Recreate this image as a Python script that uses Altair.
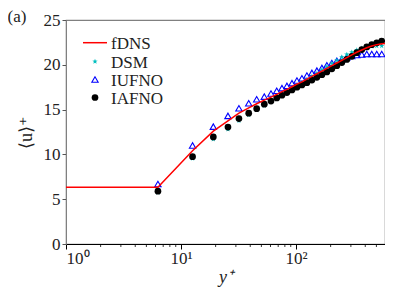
import altair as alt
import pandas as pd

# ---- data ----
SERIES = ["fDNS", "DSM", "IUFNO", "IAFNO"]

FDNS_X = [1.0, 6.3, 12.6, 19.1, 25.6, 31.9, 38.8, 45.5, 53.0, 60.6, 68.0, 75.5, 83.4,
          92.2, 101.9, 112.6, 124.4, 137.5, 151.9, 167.9, 185.5, 205.0, 226.5, 250.3,
          276.6, 305.6, 337.7, 373.2, 412.4, 455.7, 503.5, 556.4, 594.0]
FDNS_U = [6.33, 6.33, 10.4, 12.6, 13.75, 14.6, 15.2, 15.65, 16.05, 16.4, 16.7, 17.0, 17.25,
          17.55, 17.85, 18.1, 18.4, 18.7, 19.0, 19.3, 19.6, 19.9, 20.2, 20.5,
          20.8, 21.1, 21.4, 21.65, 21.9, 22.1, 22.25, 22.35, 22.38]

YPLUS = [6.3, 12.6, 19.1, 25.6, 31.9, 38.8, 45.5, 53.0, 60.6, 68.0, 75.5, 83.4, 92.2,
         101.9, 112.6, 124.4, 137.5, 151.9, 167.9, 185.5, 205.0, 226.5, 250.3, 276.6,
         305.6, 337.7, 373.2, 412.4, 455.7, 503.5, 556.4]
DSM_U = [5.75, 9.55, 11.7, 12.8, 13.75, 14.4, 14.95, 15.45, 15.85, 16.2, 16.55, 16.9, 17.25,
         17.65, 18.0, 18.35, 18.7, 19.05, 19.45, 19.8, 20.15, 20.5, 20.85, 21.15,
         21.4, 21.65, 21.85, 22.0, 22.05, 22.1, 22.1]
IUFNO_U = [6.7, 11.0, 13.1, 14.3, 15.15, 15.7, 16.15, 16.45, 16.8, 17.1, 17.4, 17.65, 17.95,
           18.25, 18.5, 18.8, 19.1, 19.35, 19.65, 19.95, 20.2, 20.45, 20.65, 20.85,
           21.0, 21.1, 21.15, 21.2, 21.2, 21.2, 21.2]
IAFNO_U = [5.9, 9.75, 11.95, 13.05, 14.0, 14.6, 15.1, 15.6, 15.95, 16.3, 16.6, 16.9, 17.2,
           17.5, 17.75, 18.0, 18.3, 18.6, 18.9, 19.2, 19.55, 19.9, 20.25, 20.6,
           20.95, 21.35, 21.7, 22.0, 22.25, 22.45, 22.65]

X_MAJOR = [1, 10, 100]
X_MINOR = [2, 3, 4, 5, 6, 7, 8, 9, 20, 30, 40, 50, 60, 70, 80, 90, 200, 300, 400, 500]
Y_TICKS = [0, 5, 10, 15, 20, 25]
PANEL = ["(a)"]

# ---- styles ----
RED, CYAN, BLUE, BLACK = "#ff0000", "#00bfbf", "#0000ff", "#000000"
STAR = ("M0,-1L0.235,-0.324L0.951,-0.309L0.38,0.124L0.588,0.809L0,0.4"
        "L-0.588,0.809L-0.38,0.124L-0.951,-0.309L-0.235,-0.324Z")
FONT = "Liberation Serif, Times New Roman, serif"
TXT = "#222222"
W, H = 319, 224

line_df = pd.DataFrame({"yplus": FDNS_X, "u": FDNS_U})
dsm_df = pd.DataFrame({"yplus": YPLUS, "u": DSM_U})
iufno_df = pd.DataFrame({"yplus": YPLUS, "u": IUFNO_U})
iafno_df = pd.DataFrame({"yplus": YPLUS, "u": IAFNO_U})
minor_df = pd.DataFrame({"yplus": X_MINOR})
panel_df = pd.DataFrame({"t": PANEL})

xscale = alt.Scale(type="log", domain=[1, 594], nice=False)
yscale = alt.Scale(domain=[0, 25], nice=False)

label_expr = "datum.value == 1 ? '10\\u2070' : (datum.value == 10 ? '10\\u00b9' : '10\\u00b2')"
xaxis = alt.Axis(values=X_MAJOR, labelExpr=label_expr, title="y⁺", grid=False,
                 tickSize=5, labelPadding=1, labelFontSize=17, labelFont=FONT,
                 titleFont=FONT, titleFontSize=18, titleFontStyle="italic",
                 titleFontWeight="normal", titlePadding=2, domainColor=BLACK,
                 tickColor=BLACK, labelColor=TXT, titleColor=TXT)
yaxis = alt.Axis(values=Y_TICKS, title="⟨u⟩⁺", grid=False, tickSize=4,
                 labelPadding=2, labelFontSize=17, labelFont=FONT, titleFont=FONT,
                 titleFontSize=18, titleFontWeight="normal", titlePadding=8,
                 domainColor="#808080", tickColor="#555555", labelColor=TXT,
                 titleColor=TXT)

X = alt.X("yplus:Q", scale=xscale, axis=xaxis)
Y = alt.Y("u:Q", scale=yscale, axis=yaxis)

dsm = alt.Chart(dsm_df).mark_point(shape=STAR, filled=True, color=CYAN,
                                   size=32, opacity=1).encode(x=X, y=Y)
iafno = alt.Chart(iafno_df).mark_point(shape="circle", filled=True, color=BLACK,
                                       size=45, opacity=1).encode(x=X, y=Y)
iufno = alt.Chart(iufno_df).mark_point(shape="triangle-up", filled=False, stroke=BLUE,
                                       strokeWidth=1.1, size=40, opacity=1).encode(x=X, y=Y)
line = alt.Chart(line_df).mark_line(color=RED, strokeWidth=1.5, clip=True).encode(x=X, y=Y)

minor = alt.Chart(minor_df).mark_rule(color=BLACK, strokeWidth=0.8).encode(
    x=X,
    y=alt.value(H),
    y2=alt.value(H + 3),
)

panel = alt.Chart(panel_df).mark_text(font=FONT, fontSize=17, color=TXT,
                                      align="center", baseline="middle").encode(
    x=alt.value(-49), y=alt.value(-3), text="t:N"
)

# ---- legend (drawn inside the plot, top-left) ----
LX, LT, ROWS = 29, 45, [22.7, 41.5, 59.5, 77.5]
leg = []
leg.append(alt.Chart(pd.DataFrame({"t": [SERIES[0]]})).mark_rule(color=RED, strokeWidth=1.5)
           .encode(x=alt.value(LX - 12), x2=alt.value(LX + 12), y=alt.value(ROWS[0])))
leg.append(alt.Chart(pd.DataFrame({"t": [SERIES[1]]})).mark_point(
    shape=STAR, filled=True, color=CYAN, size=32, opacity=1)
    .encode(x=alt.value(LX), y=alt.value(ROWS[1])))
leg.append(alt.Chart(pd.DataFrame({"t": [SERIES[2]]})).mark_point(
    shape="triangle-up", filled=False, stroke=BLUE, strokeWidth=1.1, size=40, opacity=1)
    .encode(x=alt.value(LX), y=alt.value(ROWS[2])))
leg.append(alt.Chart(pd.DataFrame({"t": [SERIES[3]]})).mark_point(
    shape="circle", filled=True, color=BLACK, size=45, opacity=1)
    .encode(x=alt.value(LX), y=alt.value(ROWS[3])))
for i, name in enumerate(SERIES):
    leg.append(alt.Chart(pd.DataFrame({"t": [name]})).mark_text(
        font=FONT, fontSize=17, color=TXT, align="left", baseline="middle")
        .encode(x=alt.value(LT), y=alt.value(ROWS[i] + 1), text="t:N"))

chart = alt.layer(iufno, dsm, iafno, line, minor, panel, *leg).properties(
    width=W, height=H,
    background="white",
    autosize=alt.AutoSizeParams(type="none"),
    padding={"left": 58, "top": 12, "right": 0, "bottom": 46},
).configure_view(stroke="#808080", strokeWidth=1.2)

chart.save("out.html", embed_options={"renderer": "svg", "actions": False})
